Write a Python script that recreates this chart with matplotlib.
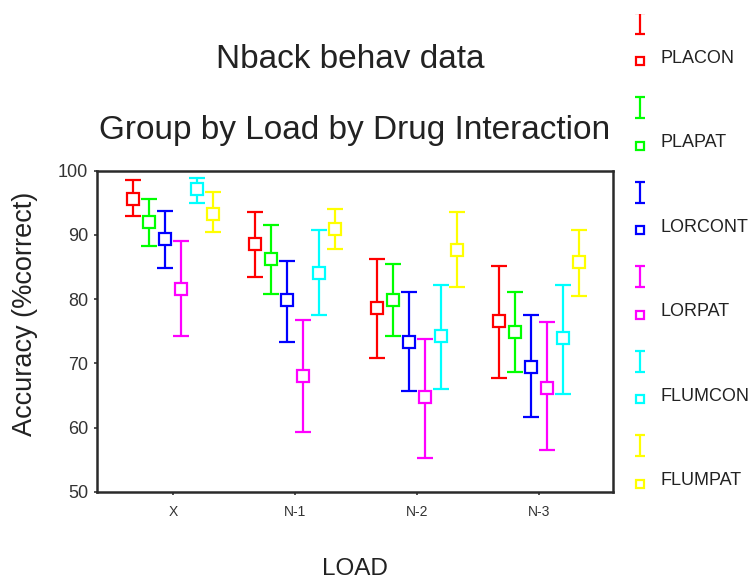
import numpy as np
from matplotlib import pyplot as plt

############################## DATA ##############################
loads = ['X', 'N-1', 'N-2', 'N-3']
drugs = ['PLACON', 'PLAPAT', 'LORCONT', 'LORPAT', 'FLUMCON', 'FLUMPAT']
colors = ['#ff0000', '#00ff00', '#0000ff', '#ff00ff', '#00ffff', '#ffff00']

means = [
    [95.6, 88.5, 78.6, 76.6],  # PLACON
    [92.0, 86.3, 79.8, 74.9],  # PLAPAT
    [89.3, 79.8, 73.4, 69.5],  # LORCONT
    [81.5, 68.0, 64.8, 66.2],  # LORPAT
    [97.1, 84.1, 74.2, 74.0],  # FLUMCON
    [93.3, 90.9, 87.6, 85.7],  # FLUMPAT
]
upper = [
    [98.5, 93.6, 86.3, 85.2],
    [95.5, 91.5, 85.5, 81.1],
    [93.7, 86.0, 81.1, 77.5],
    [89.0, 76.7, 73.8, 76.4],
    [98.9, 90.7, 82.2, 82.2],
    [96.6, 94.0, 93.6, 90.8],
]
lower = [
    [93.0, 83.4, 70.8, 67.8],
    [88.2, 80.8, 74.2, 68.6],
    [84.9, 73.4, 65.7, 61.6],
    [74.2, 59.4, 55.3, 56.5],
    [94.9, 77.5, 66.0, 65.3],
    [90.4, 87.8, 81.9, 80.5],
]

############################## PLOT ##############################
plt.rcParams['font.family'] = ['Liberation Sans', 'DejaVu Sans']

fig = plt.figure(figsize=(7.55, 5.81), dpi=100)
ax = fig.add_axes([97/755, 1-492/581, (613-97)/755, (492-170.5)/581])

x = np.arange(1, len(loads)+1)
step = 0.131
for i, d in enumerate(drugs):
    m = np.array(means[i])
    err = [m - np.array(lower[i]), np.array(upper[i]) - m]
    ax.errorbar(x + (i-2.5)*step, m, yerr=err, fmt='s', color=colors[i],
                mfc='white', mec=colors[i], ms=8, mew=1.6,
                elinewidth=1.6, capsize=5.8, capthick=1.6)

ax.set_xlim(0.377, 4.607)
ax.set_ylim(50.5, 100)
ax.set_xticks(x)
ax.set_xticklabels(loads)
ax.set_yticks([50, 60, 70, 80, 90, 100])
ax.tick_params(direction='out', length=2.5, width=1.2, colors='#333333')
ax.tick_params(axis='y', labelsize=13, pad=4)
ax.tick_params(axis='x', labelsize=10, pad=7)
for s in ax.spines.values():
    s.set_linewidth(1.8)
    s.set_color('#2a2a2a')

fig.text(25/755, 1-314/581, 'Accuracy (%correct)', fontsize=19.5,
         color='#222222', rotation=90, ha='center', va='center')
fig.text(355/755, 1-569/581, 'LOAD', fontsize=17.5, color='#222222',
         ha='center', va='center')
fig.text(350/755, 1-60/581, 'Nback behav data', fontsize=24,
         color='#222222', ha='center', va='center')
fig.text(355/755, 1-130/581, 'Group by Load by Drug Interaction', fontsize=24,
         color='#222222', ha='center', va='center')

# legend: error bar glyph above a square for each drug
lax = fig.add_axes([615/755, 0, 140/755, 1-14/581])
lax.set_xlim(615, 755)
lax.set_ylim(581, 14)
lax.axis('off')
for i, d in enumerate(drugs):
    sy = 61 + i*84.5
    lax.errorbar([640], [sy-38], yerr=[10.5], fmt='none', color=colors[i],
                 elinewidth=1.6, capsize=3.8, capthick=1.6)
    lax.plot([640], [sy], 's', mfc='white', mec=colors[i], ms=6, mew=1.6)
    lax.text(660, sy-3, d, fontsize=13, color='#222222', va='center')

fig.savefig('out.png', dpi=100)
